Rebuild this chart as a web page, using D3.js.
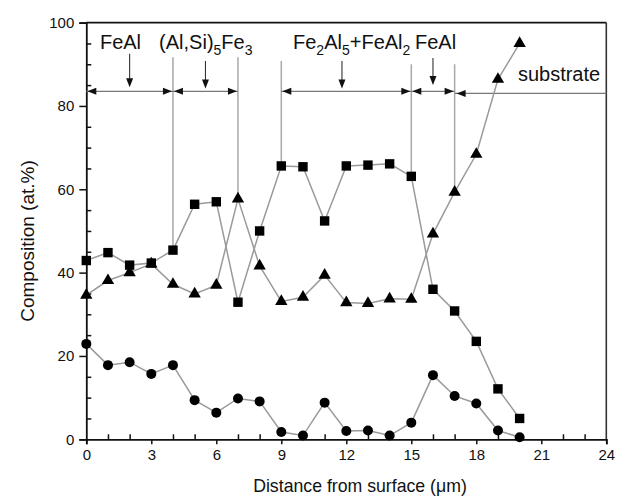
<!DOCTYPE html>
<html><head><meta charset="utf-8">
<script src="https://cdn.jsdelivr.net/npm/d3@7"></script>
<style>
html,body{margin:0;padding:0;background:#fff;}
svg text{font-family:"Liberation Sans",Arial,sans-serif;fill:#111;}
</style></head>
<body><svg id="chart" width="622" height="502"></svg>
<script>
// ---- data ----
const distance = [0,1,2,3,4,5,6,7,8,9,10,11,12,13,14,15,16,17,18,19,20];
const squareSeries = [42.9,44.8,41.8,42.3,45.4,56.4,57.0,32.9,50.0,65.6,65.4,52.4,65.6,65.8,66.1,63.1,36.0,30.8,23.5,12.1,5.0];
const triangleSeries = [34.6,38.1,40.0,42.1,37.2,34.9,37.0,57.7,41.6,33.1,34.1,39.4,32.8,32.6,33.7,33.6,49.3,59.3,68.4,86.4,95.0];
const circleSeries = [22.9,17.8,18.5,15.7,17.8,9.4,6.4,9.8,9.1,1.75,0.9,8.8,2.0,2.1,0.9,4.0,15.4,10.4,8.6,2.1,0.5];
const xTicks = [0,3,6,9,12,15,18,21,24];
const yTicks = [0,20,40,60,80,100];
// phase boundaries (x) with the series whose point each line descends to
const boundaryX = [4,7,9,15,17];
const boundaryTop = [91.7,91.7,90.8,90.0,90.0];
const boundarySeries = ["square","triangle","square","square","triangle"];
// bracket segments [from,to]
const segFrom = [0,4,9,15];
const segTo = [4,7,15,17];
const segY = 83.5;
const substrateFrom = 17, substrateTo = 24, substrateY = 83.0;
// down arrows
const arrowX = [2,5.5,11.8,16];
const arrowTop = [92.5,90.8,90.8,91.5];
const arrowTip = [84.5,84.2,84.2,85.0];
// labels
const labels = [
  {x:0.63, y:93.7, parts:[["FeAl",0]]},
  {x:3.36, y:93.7, parts:[["(Al,Si)",0],["5",1],["Fe",0],["3",1]]},
  {x:9.54, y:93.7, parts:[["Fe",0],["2",1],["Al",0],["5",1],["+FeAl",0],["2",1]]},
  {x:15.17, y:93.7, parts:[["FeAl",0]]},
  {x:19.92, y:86.0, parts:[["substrate",0]]}
];

// ---- layout ----
const svg = d3.select("#chart");
const L=86.3, R=606.3, T=22.6, B=439.3;
const x = d3.scaleLinear().domain([0,24]).range([L,R]);
const y = d3.scaleLinear().domain([0,100]).range([B,T]);

// frame top & right
svg.append("line").attr("x1",L).attr("x2",R).attr("y1",T).attr("y2",T).attr("stroke","#111").attr("stroke-width",1.6);
svg.append("line").attr("x1",R).attr("x2",R).attr("y1",T).attr("y2",B).attr("stroke","#333").attr("stroke-width",1.6);

// x axis: major outward, minor inward
const xAxis = svg.append("g").attr("transform",`translate(0,${B})`)
  .call(d3.axisBottom(x).tickValues(xTicks).tickSize(5).tickPadding(5).tickFormat(d3.format("d")));
xAxis.select(".domain").attr("stroke","#111").attr("stroke-width",1.8);
xAxis.selectAll(".tick line").attr("stroke","#111").attr("stroke-width",1.5);
xAxis.selectAll("text").attr("font-size",15).attr("font-family","Liberation Sans, Arial, sans-serif").attr("fill","#111");
svg.append("g").attr("transform",`translate(0,${B})`)
  .call(d3.axisTop(x).tickValues(d3.range(1,24).filter(v=>v%3!==0)).tickSize(5).tickFormat(""))
  .call(g=>g.select(".domain").remove())
  .selectAll(".tick line").attr("stroke","#111").attr("stroke-width",1.5);

// y axis
const yAxis = svg.append("g").attr("transform",`translate(${L},0)`)
  .call(d3.axisLeft(y).tickValues(yTicks).tickSize(7).tickPadding(5).tickFormat(d3.format("d")));
yAxis.select(".domain").attr("stroke","#111").attr("stroke-width",1.8);
yAxis.selectAll(".tick line").attr("stroke","#111").attr("stroke-width",1.5);
yAxis.selectAll("text").attr("font-size",15).attr("font-family","Liberation Sans, Arial, sans-serif").attr("fill","#111");
svg.append("g").attr("transform",`translate(${L},0)`)
  .call(d3.axisRight(y).tickValues(d3.range(5,100,5).filter(v=>v%20!==0)).tickSize(5).tickFormat(""))
  .call(g=>g.select(".domain").remove())
  .selectAll(".tick line").attr("stroke","#111").attr("stroke-width",1.5);

// axis titles
svg.append("text").attr("x",360).attr("y",492).attr("text-anchor","middle").attr("font-size",17.7)
  .text("Distance from surface (\u03bcm)");
svg.append("text").attr("transform",`translate(34,241) rotate(-90)`).attr("text-anchor","middle").attr("font-size",19)
  .text("Composition (at.%)");

const seriesMap = {square:squareSeries, triangle:triangleSeries, circle:circleSeries};

// boundary lines
const grayAnn = "#a8a8a8";
boundaryX.forEach((bx,i)=>{
  const idx = distance.indexOf(bx);
  svg.append("line").attr("x1",x(bx)).attr("x2",x(bx))
    .attr("y1",y(boundaryTop[i])).attr("y2",y(seriesMap[boundarySeries[i]][idx]))
    .attr("stroke",grayAnn).attr("stroke-width",1.5);
});

// arrowhead helper
function head(px,py,dir){ // dir: 'l','r','d'
  const len=9, w=3.5;
  let pts;
  if(dir==='l') pts=[[px,py],[px+len,py-w],[px+len,py+w]];
  else if(dir==='r') pts=[[px,py],[px-len,py-w],[px-len,py+w]];
  else pts=[[px,py],[px-w,py-len],[px+w,py-len]];
  svg.append("polygon").attr("points",pts.map(p=>p.join(",")).join(" ")).attr("fill","#111");
}

// bracket segments
segFrom.forEach((f,i)=>{
  const t=segTo[i];
  svg.append("line").attr("x1",x(f)).attr("x2",x(t)).attr("y1",y(segY)).attr("y2",y(segY))
    .attr("stroke","#777").attr("stroke-width",1.2);
  head(x(f)+1,y(segY),'l');
  head(x(t)-1,y(segY),'r');
});
svg.append("line").attr("x1",x(substrateFrom)).attr("x2",x(substrateTo)).attr("y1",y(substrateY)).attr("y2",y(substrateY))
  .attr("stroke","#777").attr("stroke-width",1.2);
head(x(substrateFrom)+2,y(substrateY),'l');

// down arrows
arrowX.forEach((ax,i)=>{
  svg.append("line").attr("x1",x(ax)).attr("x2",x(ax)).attr("y1",y(arrowTop[i])).attr("y2",y(arrowTip[i])-4)
    .attr("stroke","#333").attr("stroke-width",1.1);
  head(x(ax),y(arrowTip[i]),'d');
});

// series lines
const line = d3.line().x((d,i)=>x(distance[i])).y(d=>y(d));
[squareSeries,triangleSeries,circleSeries].forEach(s=>{
  svg.append("path").attr("d",line(s)).attr("fill","none").attr("stroke","#9a9a9a").attr("stroke-width",1.5);
});

// markers
svg.append("g").selectAll("rect").data(squareSeries).join("rect")
  .attr("x",(d,i)=>x(distance[i])-4.7).attr("y",d=>y(d)-4.7).attr("width",9.4).attr("height",9.4).attr("fill","#000");
svg.append("g").selectAll("path").data(triangleSeries).join("path")
  .attr("d",d3.symbol(d3.symbolTriangle,66)).attr("transform",(d,i)=>`translate(${x(distance[i])},${y(d)})`).attr("fill","#000");
svg.append("g").selectAll("circle").data(circleSeries).join("circle")
  .attr("cx",(d,i)=>x(distance[i])).attr("cy",d=>y(d)).attr("r",5).attr("fill","#000");

// labels
labels.forEach(lb=>{
  const t = svg.append("text").attr("x",x(lb.x)).attr("y",y(lb.y)).attr("font-size",20);
  let prevSub=0;
  lb.parts.forEach(([s,sub])=>{
    const dy = (sub-prevSub)*6;
    t.append("tspan").attr("dy",dy).attr("font-size",sub?14:20).text(s);
    prevSub=sub;
  });
});
</script></body></html>
